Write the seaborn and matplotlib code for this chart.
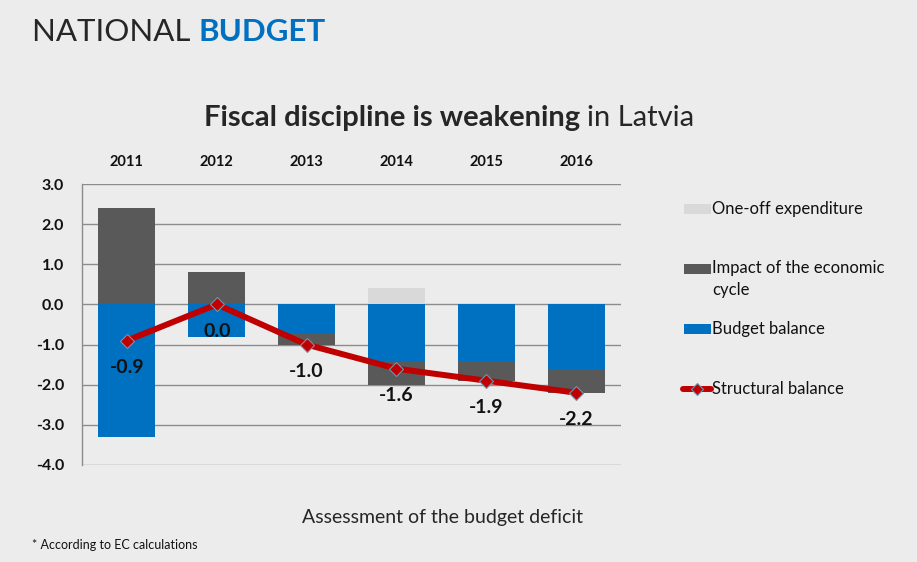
import numpy as np
import pandas as pd
import matplotlib
matplotlib.use("Agg")
import matplotlib.pyplot as plt
import seaborn as sns
from matplotlib import font_manager as fm
from matplotlib.patches import Rectangle
from matplotlib.lines import Line2D

# ---------------- data ----------------
years = ["2011", "2012", "2013", "2014", "2015", "2016"]
budget_balance = [-3.3, -0.8, -0.7, -1.4, -1.4, -1.6]
cycle_impact = [2.4, 0.8, -0.3, -0.6, -0.5, -0.6]
one_off = [0.0, 0.0, 0.0, 0.4, 0.0, 0.0]
structural = [-0.9, 0.0, -1.0, -1.6, -1.9, -2.2]
y_ticks = [3.0, 2.0, 1.0, 0.0, -1.0, -2.0, -3.0, -4.0]
legend_labels = ["One-off expenditure", "Impact of the economic\ncycle",
                 "Budget balance", "Structural balance"]

df = pd.DataFrame({"year": years, "budget": budget_balance,
                   "cycle": cycle_impact, "oneoff": one_off,
                   "structural": structural})
# dark-grey segment: above zero when positive, otherwise stacked below the blue bar
df["cycle_extent"] = [c if c > 0 else b + c for b, c in zip(budget_balance, cycle_impact)]

# ---------------- style ----------------
sns.set_theme(style="white")
available = {f.name for f in fm.fontManager.ttflist}
main_font = "Lato" if "Lato" in available else "DejaVu Sans"
narrow_font = "Liberation Sans Narrow" if "Liberation Sans Narrow" in available else main_font
plt.rcParams["font.family"] = [main_font, "DejaVu Sans"]

BLUE = "#0070C0"
DARK = "#595959"
LIGHT = "#D9D9D9"
RED = "#C00000"
BG = "#ECECEC"
GRID = "#8C8C8C"

fig = plt.figure(figsize=(9.17, 5.62), dpi=100, facecolor=BG)
ax = fig.add_axes([82 / 917, 1 - 465 / 562, (621 - 82) / 917, (465 - 184) / 562])
ax.set_facecolor("none")

bar_w = 0.635
sns.barplot(data=df, x="year", y="cycle_extent", order=years, color=DARK,
            width=bar_w, saturation=1, ax=ax, zorder=2)
sns.barplot(data=df, x="year", y="budget", order=years, color=BLUE,
            width=bar_w, saturation=1, ax=ax, zorder=3)
sns.barplot(data=df, x="year", y="oneoff", order=years, color=LIGHT,
            width=bar_w, saturation=1, ax=ax, zorder=3)
for p in ax.patches:
    p.set_edgecolor("none")

sns.pointplot(data=df, x="year", y="structural", order=years, color=RED,
              markers="D", linestyles="-", errorbar=None, ax=ax,
              markersize=7, linewidth=4.3)
for ln in ax.lines:
    ln.set_zorder(5)
    ln.set_markeredgecolor("#7F8FA6")
    ln.set_markeredgewidth(0.8)
    ln.set_solid_capstyle("round")

for i, v in enumerate(structural):
    ax.annotate(f"{v:.1f}", (i, v), xytext=(0, -19.5), textcoords="offset points",
                ha="center", va="center", fontsize=14, fontweight="bold",
                color="#111111", zorder=6)

# axes
ax.set_xlim(-0.5, len(years) - 0.5)
ax.set_ylim(-4.0, 3.0)
ax.set_yticks(y_ticks)
ax.set_yticklabels([f"{t:.1f}" for t in y_ticks], fontsize=11.5, fontweight="bold",
                   color="#111111")
ax.tick_params(axis="y", length=0, pad=13)
ax.xaxis.tick_top()
ax.set_xticks(range(len(years)))
ax.set_xticklabels(years, fontsize=10.5, fontweight="bold", color="#111111")
ax.tick_params(axis="x", length=0, pad=11)
ax.set_xlabel("")
ax.set_ylabel("")
ax.yaxis.grid(True, color=GRID, linewidth=1.0, zorder=0)
ax.set_axisbelow(True)
for side in ["top", "right", "bottom"]:
    ax.spines[side].set_visible(False)
ax.spines["left"].set_color(GRID)
ax.spines["left"].set_linewidth(1.0)

# ---------------- titles ----------------
r = fig.canvas.get_renderer()
t1 = fig.text(32 / 917, 1 - 41 / 562, "NATIONAL ", fontsize=22.5, color="#262626",
              va="baseline", ha="left")
bb = t1.get_window_extent(r)
fig.text(bb.x1 / 917, 1 - 41 / 562, "BUDGET", fontsize=22.5, color=BLUE,
         fontweight="bold", va="baseline", ha="left")

s1 = fig.text(204 / 917, 1 - 126 / 562, "Fiscal discipline is weakening ",
              fontsize=21, fontweight="bold", color="#262626", va="baseline", ha="left")
bb = s1.get_window_extent(r)
fig.text(bb.x1 / 917, 1 - 126 / 562, "in Latvia", fontsize=21, color="#262626",
         va="baseline", ha="left")

fig.text(443 / 917, 1 - 518 / 562, "Assessment of the budget deficit",
         fontsize=14, color="#262626", ha="center", va="center",
         family=[narrow_font, "DejaVu Sans"])
fig.text(32 / 917, 1 - 545 / 562, "* According to EC calculations",
         fontsize=9, color="#111111", ha="left", va="center",
         family=[narrow_font, "DejaVu Sans"])

# ---------------- legend ----------------
leg_colors = [LIGHT, DARK, BLUE]
leg_y = [209, 269, 329]
for c, y in zip(leg_colors, leg_y):
    fig.patches.append(Rectangle((684 / 917, 1 - (y + 5) / 562), 27 / 917, 10 / 562,
                                 transform=fig.transFigure, facecolor=c,
                                 edgecolor="none", figure=fig))
fig.text(712 / 917, 1 - 209 / 562, legend_labels[0], fontsize=12, color="#111111",
         ha="left", va="center")
fig.text(712 / 917, 1 - 260 / 562, legend_labels[1], fontsize=12, color="#111111",
         ha="left", va="top", linespacing=1.45)
fig.text(712 / 917, 1 - 329 / 562, legend_labels[2], fontsize=12, color="#111111",
         ha="left", va="center")
fig.lines.append(Line2D([683 / 917, 711 / 917], [1 - 389 / 562, 1 - 389 / 562],
                        transform=fig.transFigure, color=RED, linewidth=4.3,
                        solid_capstyle="round", figure=fig))
fig.lines.append(Line2D([697 / 917], [1 - 389 / 562], transform=fig.transFigure,
                        marker="D", markersize=6, color=RED,
                        markeredgecolor="#7F8FA6", markeredgewidth=0.8, figure=fig))
fig.text(712 / 917, 1 - 389 / 562, legend_labels[3], fontsize=12, color="#111111",
         ha="left", va="center")

fig.savefig("out.png", dpi=100, facecolor=BG)
